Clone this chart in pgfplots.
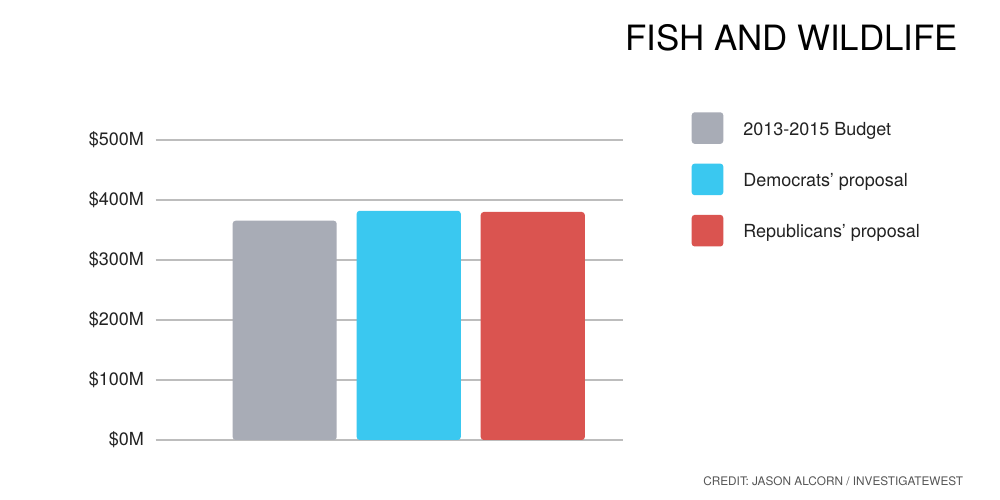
\documentclass[border=0pt]{standalone}
\usepackage{fontspec}
\setmainfont{TeX Gyre Heros}
\usepackage{pgfplots}
\pgfplotsset{compat=1.18}
\definecolor{cgray}{HTML}{A8ACB6}
\definecolor{cblue}{HTML}{3AC8F0}
\definecolor{cred}{HTML}{DA5450}
\definecolor{cgrid}{HTML}{BDBDBD}
\definecolor{ctext}{HTML}{222222}
\definecolor{ccredit}{HTML}{555555}
\begin{document}
\begin{tikzpicture}
\path[use as bounding box, fill=white] (0,0) rectangle (1000bp,500bp);
\begin{axis}[
  at={(155.7bp,60bp)}, anchor=south west,
  scale only axis, width=467bp, height=300bp,
  xmin=-1.04, xmax=2.725, ymin=0, ymax=500,
  axis line style={draw=none},
  ytick={0,100,200,300,400,500},
  yticklabels={\$0M,\$100M,\$200M,\$300M,\$400M,\$500M},
  xtick=\empty,
  ymajorgrids,
  grid style={cgrid, line width=1.3bp},
  major tick length=0pt, tick style={draw=none},
  yticklabel style={anchor=east, inner sep=0pt, xshift=-11.7bp, font=\fontsize{18bp}{20bp}\selectfont, text=ctext},
  ybar, bar width=0.839,
  legend style={at={(1,1)}, anchor=north west, xshift=69bp, yshift=27.7bp,
    draw=none, fill=none, inner sep=0pt, outer sep=0pt, row sep=19.7bp,
    column sep=0pt,
    nodes={inner sep=0pt, outer sep=0pt, font=\fontsize{18bp}{20bp}\selectfont, text=ctext}},
  legend cell align=left,
  legend image code/.code={\draw[#1, draw=none, rounded corners=3bp] (0bp,-14.35bp) rectangle (31.6bp,17.25bp); \path (51.6bp,0) ;},
]
\addplot[fill=cgray, draw=none, bar shift=0pt, rounded corners=3bp] coordinates {(0,365.5)};
\addlegendentry{2013-2015 Budget}
\addplot[fill=cblue, draw=none, bar shift=0pt, rounded corners=3bp] coordinates {(1,382)};
\addlegendentry{Democrats’ proposal}
\addplot[fill=cred, draw=none, bar shift=0pt, rounded corners=3bp] coordinates {(2,380)};
\addlegendentry{Republicans’ proposal}
\end{axis}
\node[anchor=base east, inner sep=0pt, font=\fontsize{34.85bp}{40bp}\selectfont] at (958.3bp,449.3bp) {FISH AND WILDLIFE};
\node[anchor=base east, inner sep=0pt, text=ccredit, font=\fontsize{11.8bp}{13bp}\selectfont] at (963.3bp,15bp) {CREDIT: JASON ALCORN / INVESTIGATEWEST};
\end{tikzpicture}
\end{document}
